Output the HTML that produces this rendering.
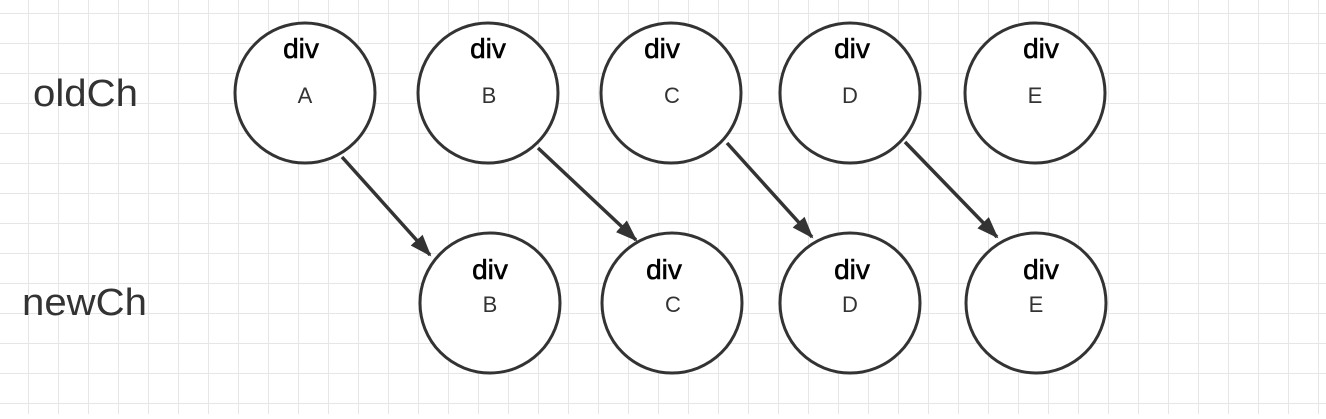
<!DOCTYPE html>
<html><head><meta charset="utf-8"><style>
html,body{margin:0;padding:0;background:#fff}
</style></head><body>
<svg width="1326" height="414" xmlns="http://www.w3.org/2000/svg">
<defs>
<pattern id="g" x="-2" y="13" width="30" height="30" patternUnits="userSpaceOnUse">
<path d="M0 0V30M0 0H30" stroke="#e6e6e6" stroke-width="2" fill="none"/>
</pattern>
<marker id="a" markerWidth="22" markerHeight="22" refX="20" refY="11" orient="auto" markerUnits="userSpaceOnUse">
<path d="M0 3L22 11L0 19z" fill="#333"/>
</marker>
</defs>
<rect width="1326" height="414" fill="url(#g)"/>
<g font-family="Liberation Sans, sans-serif" fill="#333">
<text x="33" y="106" font-size="38" textLength="105" lengthAdjust="spacingAndGlyphs">oldCh</text>
<text x="22" y="315" font-size="38" textLength="125" lengthAdjust="spacingAndGlyphs">newCh</text>
</g>
<g fill="#fff" stroke="#333" stroke-width="3">
<circle cx="305" cy="93" r="70"/>
<circle cx="488" cy="93" r="70"/>
<circle cx="671" cy="93" r="70"/>
<circle cx="850" cy="93" r="70"/>
<circle cx="1035" cy="93" r="70"/>
<circle cx="490" cy="303" r="70"/>
<circle cx="672" cy="303" r="70"/>
<circle cx="850" cy="303" r="70"/>
<circle cx="1036" cy="303" r="70"/>
</g>
<g stroke="#333" stroke-width="3.5" marker-end="url(#a)">
<line x1="342" y1="157" x2="430" y2="255"/>
<line x1="538" y1="148" x2="636" y2="240"/>
<line x1="727" y1="143" x2="812" y2="237"/>
<line x1="905" y1="142" x2="997" y2="237"/>
</g>
<g font-family="Liberation Sans, sans-serif" text-anchor="middle">
<g font-size="28" fill="#000" stroke="#000" stroke-width="0.6">
<text x="301" y="58">div</text><text x="488" y="58">div</text><text x="662" y="58">div</text><text x="852" y="58">div</text><text x="1041" y="58">div</text>
<text x="490" y="279">div</text><text x="664" y="279">div</text><text x="852" y="279">div</text><text x="1041" y="279">div</text>
</g>
<g font-size="22" fill="#333">
<text x="305" y="103">A</text><text x="489" y="103">B</text><text x="672" y="103">C</text><text x="850" y="103">D</text><text x="1035" y="103">E</text>
<text x="490" y="312">B</text><text x="673" y="312">C</text><text x="850" y="312">D</text><text x="1036" y="312">E</text>
</g>
</g>
</svg>
</body></html>
